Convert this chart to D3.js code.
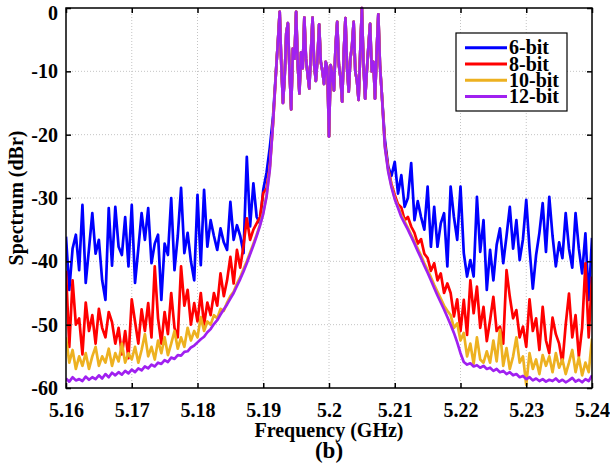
<!DOCTYPE html>
<html><head><meta charset="utf-8">
<script src="https://cdn.jsdelivr.net/npm/d3@7"></script>
<style>body{margin:0;background:#fff}svg{display:block}</style>
</head><body><svg id="c" width="610" height="465"></svg>
<script>
// ---- data ----
// sampling grid of the spectra: left skirt, in-band, right skirt
const segStart = [5.16, 5.192, 5.2085];
const segStep  = [0.0005, 0.00025, 0.0005];
const xTicks = [5.16,5.17,5.18,5.19,5.2,5.21,5.22,5.23,5.24];
const xTickLabels = ["5.16","5.17","5.18","5.19","5.2","5.21","5.22","5.23","5.24"];
const yTicks = [0,-10,-20,-30,-40,-50,-60];
const yTickLabels = ["0","-10","-20","-30","-40","-50","-60"];
const seriesNames = ["6-bit","8-bit","10-bit","12-bit"];

// in-band part (5.192 - 5.208 GHz), common to all resolutions
const passband = [-9,-5,-0.6,-9,-15,-11,-4,-2.4,-10,-16,
-6.4,-8,-0.6,-9,-13.5,-7,-9.5,-1.5,-8,-10.5,
-12.7,-7,-1.5,-9,-11.5,-8,-2.6,-8.5,-10,-12,
-8.5,-9.5,-20.3,-9,-10.5,-13,-6,-2.2,-9,-11,
-14.8,-7,-1.6,-9.5,-13.2,-8,-6,-2.2,-10,-11.5,
-14.5,-7,0,-9,-14.3,-10,-6,-2.5,-10,-8.5,
-14.3,-7,-1,-9,-13];

const blueLeft = [-36.1,-44.5,-38,-35.8,-41.4,-31.1,-43.4,-38,-32.4,-38.8,
-36.6,-43,-46.1,-31.6,-40.7,-31.4,-37.7,-39,-33,-40.8,
-31.1,-43.4,-38,-32.4,-36.6,-31.6,-40.3,-37.2,-35.8,-46.1,
-37.2,-39,-30,-41.4,-36,-28.4,-38.7,-35.5,-40,-43,
-29.5,-40.6,-28.7,-37.7,-33.5,-36,-38.2,-34.8,-37,-38.2,
-30.6,-36.6,-34.3,-36,-38.7,-23.5,-34.5,-27.7,-33,-34,
-28.7,-26,-22,-17];
const blueRight = [-20.8,-25,-26.5,-24.3,-29.3,-26.4,-31.4,-30,-24.5,-33.5,
-30.5,-33,-35,-28.2,-37.7,-31.4,-37.7,-34,-32.4,-40.8,
-28.2,-33,-36.6,-28.2,-38.7,-42.4,-39.8,-42.4,-29.8,-38.5,
-33.5,-44.5,-38.2,-43,-37.4,-34.8,-40.3,-36,-31.4,-38,
-33.5,-39.8,-36.5,-30.3,-38,-44.3,-39,-35.5,-30.8,-38.5,
-29.8,-36,-40.8,-37,-39.5,-32.4,-38,-41,-32.4,-38,
-41.9,-35.6,-46.1,-36.3];

const redLeft = [-41.5,-53.5,-43,-50,-49,-54.7,-46.5,-51,-48.5,-53,
-47.5,-50.5,-52,-48,-49.6,-53,-50.5,-54.7,-51,-55.3,
-46,-49.5,-53,-47.6,-51,-46.6,-52,-40.8,-49,-53,
-48,-51.5,-45,-50.5,-52,-40.8,-47,-44.5,-50,-46.6,
-49.5,-45,-50,-46.5,-48.5,-45,-47,-41.9,-45.5,-43,
-39.3,-43.5,-38.2,-41,-37.5,-33.2,-36.6,-35,-34,-33,
-29.2,-28.5,-25,-18];
const redRight = [-21.5,-25.3,-27.8,-29.5,-31,-31.5,-33.5,-33,-34.5,-35.5,
-37.2,-36.5,-38.8,-39.5,-41.5,-40.3,-43,-41.9,-45,-43.5,
-45,-48.7,-46,-51,-46.1,-51.6,-43,-48.2,-44,-50.5,
-47.2,-52.6,-49.3,-45.6,-51,-50.3,-53,-41.4,-45.6,-49,
-47.7,-52,-50.3,-53.5,-46,-51,-49,-54,-47.2,-52.5,
-54.5,-48.9,-51.5,-53,-56.1,-50,-45.1,-52,-48.5,-55,
-50.5,-40.3,-52,-42.4];

const orangeLeft = [-52,-56,-54,-57,-55,-56.5,-54.5,-57,-55,-53.5,
-56.5,-55,-56,-53.8,-56.5,-54.5,-55.8,-53,-56,-54.5,
-55.5,-53.5,-56,-54,-51.5,-55,-53.5,-55.5,-52.5,-54.5,
-52,-54.8,-53,-51,-53.8,-52,-53.5,-50.5,-52.5,-51,
-52,-48.8,-51,-49.5,-50,-48.5,-49,-47.5,-47.8,-46.5,
-45.5,-44.8,-43.5,-42.5,-41.2,-40,-38.6,-37.2,-35.8,-34.2,
-32.3,-29.6,-25.3,-18];
const orangeRight = [-21.8,-25.6,-28.1,-30,-31.4,-32.7,-33.7,-34.7,-35.8,-36.9,
-38,-39.1,-40.3,-41.4,-42.5,-43.7,-44.8,-45.9,-47,-47.8,
-48.5,-50.5,-49.8,-52.5,-51.3,-55,-53,-56.2,-52,-55.5,
-56,-54.2,-56,-52.5,-55.8,-50.8,-56.5,-53.7,-57,-55,
-52,-56,-55,-59.5,-54.5,-57,-55.5,-57.8,-54.8,-56.5,
-55,-57.5,-54.5,-56.8,-55.5,-57.8,-56,-54,-57.5,-55.2,
-58,-56,-57.5,-52.2];

const purpleLeft = [-58.5,-59,-58.3,-58.8,-58.6,-58.9,-58.2,-58.7,-58.3,-58.6,
-58,-58.5,-57.8,-58.3,-57.6,-58,-57.5,-57.9,-57.3,-57.7,
-57.1,-57.5,-56.9,-57.2,-56.6,-56.9,-56.3,-56.6,-56,-56.2,
-55.6,-55.9,-55.2,-55.4,-54.8,-54.9,-54.3,-54.2,-53.6,-53.3,
-52.8,-52.3,-51.9,-51.2,-50.7,-49.9,-49.3,-48.4,-47.6,-46.8,
-45.9,-45,-43.9,-42.8,-41.6,-40.3,-38.9,-37.5,-36,-34.4,
-32.5,-29.8,-25.5,-18];
const purpleRight = [-22,-25.8,-28.3,-30.2,-31.6,-33,-34,-35,-36.1,-37.2,
-38.4,-39.5,-40.7,-41.8,-43,-44.2,-45.4,-46.5,-47.6,-48.8,
-50,-51.3,-52.8,-54.5,-55.9,-56.3,-56.1,-56.6,-56.4,-56.8,
-56.5,-57,-56.8,-57.3,-57,-57.5,-57.3,-57.8,-57.5,-58,
-57.8,-58.3,-58.1,-58.6,-58.3,-58.8,-58.5,-58.9,-58.6,-59,
-58.7,-58.9,-58.5,-59,-58.7,-59.1,-58.8,-58.4,-59,-58.7,
-59.1,-58.6,-58.9,-58];

function onGrid(seg, vals){ return vals.map((v,i)=>[segStart[seg] + i*segStep[seg], v]); }
function spectrum(left, band, right){ return onGrid(0,left).concat(onGrid(1,band), onGrid(2,right)); }
const allSeries = [
  spectrum(blueLeft, passband, blueRight),
  spectrum(redLeft, passband, redRight),
  spectrum(orangeLeft, passband, orangeRight),
  spectrum(purpleLeft, passband, purpleRight)
];

// ---- styles ----
const colors = ["#0000ff","#ff0000","#edb120","#a020f0"];
const font = "'Liberation Serif','Times New Roman',serif";

const svg = d3.select("#c");
const L = 66, R = 592, T = 8, B = 388;
const x = d3.scaleLinear().domain([5.16,5.24]).range([L,R]);
const y = d3.scaleLinear().domain([-60,0]).range([B,T]);

svg.append("rect").attr("width",610).attr("height",465).attr("fill","#fff");

// grid
const g = svg.append("g");
g.selectAll(".gx").data(xTicks.slice(1,-1)).join("line")
  .attr("x1",d=>x(d)).attr("x2",d=>x(d)).attr("y1",T).attr("y2",B)
  .attr("stroke","#c4c4c4").attr("stroke-width",1).attr("stroke-dasharray","1,2");
g.selectAll(".gy").data(yTicks.slice(1,-1)).join("line")
  .attr("x1",L).attr("x2",R).attr("y1",d=>y(d)).attr("y2",d=>y(d))
  .attr("stroke","#c4c4c4").attr("stroke-width",1).attr("stroke-dasharray","1,2");

// clip
svg.append("clipPath").attr("id","clip").append("rect")
  .attr("x",L).attr("y",T-2).attr("width",R-L).attr("height",B-T+2);

const line = d3.line().x(d=>x(d[0])).y(d=>y(d[1]));
const lg = svg.append("g").attr("clip-path","url(#clip)");
allSeries.forEach((s,k)=>{
  lg.append("path").datum(s).attr("d",line).attr("fill","none")
    .attr("stroke",colors[k]).attr("stroke-width",2.7).attr("stroke-linejoin","round");
});

// axes (ticks inward on all four sides)
function styleAxis(sel){ sel.select(".domain").remove(); sel.selectAll(".tick line").attr("stroke","#000").attr("stroke-width",1.5); }
const axB = svg.append("g").attr("transform",`translate(0,${B})`)
  .call(d3.axisBottom(x).tickValues(xTicks).tickFormat((d,i)=>xTickLabels[i]).tickSizeInner(-5).tickSizeOuter(0).tickPadding(15));
styleAxis(axB);
axB.selectAll("text").attr("font-family",font).attr("font-weight","bold").attr("font-size",20).attr("fill","#000");
const axT = svg.append("g").attr("transform",`translate(0,${T})`)
  .call(d3.axisTop(x).tickValues(xTicks).tickFormat("").tickSizeInner(-5).tickSizeOuter(0));
styleAxis(axT);
const axL = svg.append("g").attr("transform",`translate(${L},0)`)
  .call(d3.axisLeft(y).tickValues(yTicks).tickFormat((d,i)=>yTickLabels[i]).tickSizeInner(-5).tickSizeOuter(0).tickPadding(8));
styleAxis(axL);
axL.selectAll("text").attr("font-family",font).attr("font-weight","bold").attr("font-size",20).attr("fill","#000");
// keep the top "0" label inside the picture
axL.selectAll(".tick").filter(d=>d===0).select("text").attr("dy","0.55em");
const axR = svg.append("g").attr("transform",`translate(${R},0)`)
  .call(d3.axisRight(y).tickValues(yTicks).tickFormat("").tickSizeInner(-5).tickSizeOuter(0));
styleAxis(axR);

// frame
svg.append("rect").attr("x",L).attr("y",T).attr("width",R-L).attr("height",B-T)
  .attr("fill","none").attr("stroke","#000").attr("stroke-width",1.5);

// labels
svg.append("text").attr("x",(L+R)/2).attr("y",437).attr("text-anchor","middle")
  .attr("font-family",font).attr("font-weight","bold").attr("font-size",20).text("Frequency (GHz)");
svg.append("text").attr("x",(L+R)/2).attr("y",458).attr("text-anchor","middle")
  .attr("font-family",font).attr("font-weight","bold").attr("font-size",23).text("(b)");
svg.append("text").attr("transform",`translate(23,${(T+B)/2}) rotate(-90)`).attr("text-anchor","middle")
  .attr("font-family",font).attr("font-weight","bold").attr("font-size",20).text("Spectrum (dBr)");

// legend
const leg = svg.append("g");
leg.append("rect").attr("x",456).attr("y",33).attr("width",111).attr("height",78)
  .attr("fill","#fff").attr("stroke","#000").attr("stroke-width",1.2);
seriesNames.forEach((n,k)=>{
  const yy = 47.7 + k*16.3;
  leg.append("line").attr("x1",465).attr("x2",507).attr("y1",yy).attr("y2",yy)
    .attr("stroke",colors[k]).attr("stroke-width",3);
  leg.append("text").attr("x",509).attr("y",yy+6.5).attr("font-family",font)
    .attr("font-weight","bold").attr("font-size",20).text(n);
});
</script></body></html>
